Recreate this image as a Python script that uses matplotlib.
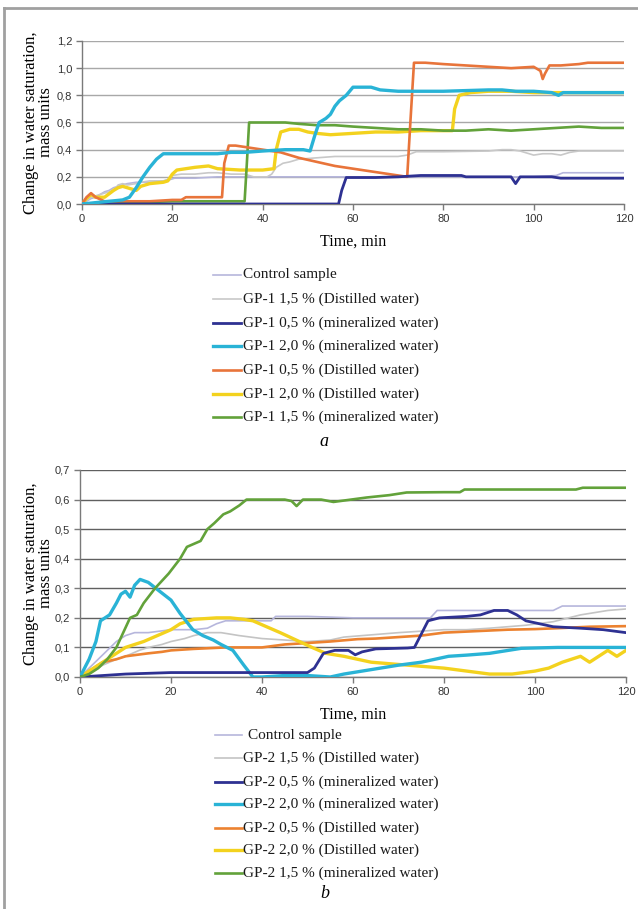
import matplotlib
matplotlib.use("Agg")
import matplotlib.pyplot as plt
from matplotlib.lines import Line2D
from matplotlib.ticker import FuncFormatter, MultipleLocator

# ---------------- data: chart a ----------------
labels_a = ["Control sample",
            "GP-1 1,5 % (Distilled water)",
            "GP-1 0,5 % (mineralized water)",
            "GP-1 2,0 % (mineralized water)",
            "GP-1 0,5 % (Distilled water)",
            "GP-1 2,0 % (Distilled water)",
            "GP-1 1,5 % (mineralized water)"]

ctrl_a_x = [0, 1, 2, 3, 4, 5, 6, 7, 8, 9, 10, 12, 15, 18, 19.5, 20.5, 25, 30, 35, 40, 45, 60, 80, 100, 105, 106.5, 120]
ctrl_a_y = [0, 0.02, 0.04, 0.05, 0.07, 0.09, 0.1, 0.12, 0.13, 0.14, 0.15, 0.16, 0.16, 0.17, 0.18, 0.19, 0.19, 0.2, 0.2, 0.2, 0.2, 0.2, 0.2, 0.2, 0.21, 0.23, 0.23]

gray_a_x = [0, 1, 2, 3, 5, 7, 8, 9, 10, 12, 13, 15, 18, 19, 20, 22, 25, 28, 30, 33, 36, 38, 40, 41, 42, 43, 44.5, 46, 48, 52, 56, 62, 70, 72, 74, 80, 90, 93, 95, 97, 99, 100, 102, 104, 106, 108, 110, 120]
gray_a_y = [0, 0.03, 0.05, 0.06, 0.08, 0.1, 0.14, 0.15, 0.14, 0.15, 0.16, 0.17, 0.17, 0.18, 0.21, 0.22, 0.22, 0.23, 0.23, 0.22, 0.22, 0.2, 0.2, 0.2, 0.22, 0.27, 0.3, 0.31, 0.33, 0.34, 0.35, 0.35, 0.35, 0.36, 0.385, 0.385, 0.39, 0.4, 0.4, 0.39, 0.37, 0.36, 0.37, 0.37, 0.36, 0.38, 0.39, 0.39]

navy_a_x = [0, 56.8, 57.5, 58.5, 65, 70, 75, 80, 84, 85, 95, 96, 97, 100, 104, 106, 120]
navy_a_y = [0, 0, 0.1, 0.195, 0.195, 0.2, 0.21, 0.21, 0.21, 0.2, 0.2, 0.15, 0.2, 0.2, 0.2, 0.19, 0.19]

cyan_a_x = [0, 3, 6, 9, 10.5, 12, 13.5, 15, 16.5, 18, 20, 25, 30, 33, 36, 40, 45, 49, 50.5, 51.5, 52.5, 54, 55, 56, 57, 58.5, 60, 62, 64, 66, 70, 80, 90, 93, 96, 100, 104, 105.5, 106.5, 110, 120]
cyan_a_y = [0, 0.01, 0.02, 0.03, 0.05, 0.12, 0.2, 0.27, 0.33, 0.37, 0.37, 0.37, 0.37, 0.38, 0.38, 0.39, 0.4, 0.4, 0.39, 0.5, 0.6, 0.63, 0.66, 0.72, 0.76, 0.8, 0.86, 0.86, 0.86, 0.84, 0.83, 0.83, 0.84, 0.84, 0.83, 0.83, 0.82, 0.8, 0.82, 0.82, 0.82]

orange_a_x = [0, 1, 2, 3, 5, 10, 15, 20, 22, 23, 28, 31, 31.5, 32.5, 34, 36, 40, 44, 48, 52, 56, 60, 64, 68, 72, 72.7, 73.5, 76, 80, 85, 90, 95, 100, 101.5, 102, 102.5, 103.5, 106, 110, 112, 120]
orange_a_y = [0, 0.05, 0.08, 0.05, 0.02, 0.02, 0.02, 0.03, 0.03, 0.05, 0.05, 0.05, 0.3, 0.43, 0.43, 0.42, 0.4, 0.38, 0.34, 0.31, 0.28, 0.26, 0.24, 0.22, 0.2, 0.6, 1.04, 1.04, 1.03, 1.02, 1.01, 1.0, 1.01, 0.98, 0.92, 0.96, 1.02, 1.02, 1.03, 1.04, 1.04]

yellow_a_x = [0, 1, 2, 3, 5, 7, 8, 9, 10, 11, 12, 13, 15, 18, 19, 20, 21, 25, 28, 30, 35, 40, 42.5, 43, 44, 46, 48, 50, 52, 55, 60, 65, 70, 75, 80, 82, 82.5, 83.5, 86, 90, 95, 100, 110, 120]
yellow_a_y = [0, 0.04, 0.07, 0.05, 0.05, 0.1, 0.12, 0.13, 0.12, 0.11, 0.1, 0.13, 0.15, 0.16, 0.17, 0.22, 0.25, 0.27, 0.28, 0.26, 0.25, 0.25, 0.26, 0.4, 0.53, 0.55, 0.55, 0.53, 0.52, 0.51, 0.52, 0.53, 0.53, 0.54, 0.54, 0.54, 0.7, 0.8, 0.82, 0.83, 0.83, 0.82, 0.82, 0.82]

green_a_x = [0, 5, 10, 20, 30, 35, 36, 36.5, 37, 40, 45, 48, 52, 56, 60, 65, 70, 75, 80, 85, 90, 95, 100, 105, 110, 115, 120]
green_a_y = [0, 0.01, 0.01, 0.02, 0.02, 0.02, 0.02, 0.3, 0.6, 0.6, 0.6, 0.59, 0.58, 0.58, 0.57, 0.56, 0.55, 0.55, 0.54, 0.54, 0.55, 0.54, 0.55, 0.56, 0.57, 0.56, 0.56]

# ---------------- data: chart b ----------------
labels_b = ["Control sample",
            "GP-2 1,5 % (Distilled water)",
            "GP-2 0,5 % (mineralized water)",
            "GP-2 2,0 % (mineralized water)",
            "GP-2 0,5 % (Distilled water)",
            "GP-2 2,0 % (Distilled water)",
            "GP-2 1,5 % (mineralized water)"]

ctrl_b_x = [0, 2, 4, 6, 8, 10, 12, 15, 20, 25, 28, 30, 32, 35, 40, 42, 43, 50, 60, 70, 77, 78.5, 90, 100, 104, 106, 120]
ctrl_b_y = [0, 0.03, 0.06, 0.09, 0.12, 0.14, 0.15, 0.15, 0.16, 0.16, 0.165, 0.18, 0.19, 0.19, 0.19, 0.19, 0.205, 0.205, 0.2, 0.2, 0.2, 0.225, 0.225, 0.225, 0.225, 0.24, 0.24]

gray_b_x = [0, 3, 5, 8, 10, 13, 15, 18, 20, 23, 25, 28, 31, 35, 40, 45, 50, 55, 58, 62, 66, 70, 75, 80, 85, 90, 98, 104, 110, 116, 120]
gray_b_y = [0, 0.02, 0.04, 0.06, 0.07, 0.09, 0.1, 0.11, 0.12, 0.13, 0.14, 0.15, 0.15, 0.14, 0.13, 0.125, 0.12, 0.125, 0.135, 0.14, 0.145, 0.15, 0.155, 0.16, 0.16, 0.165, 0.175, 0.187, 0.21, 0.225, 0.23]

navy_b_x = [0, 10, 20, 50, 51.5, 53.5, 56, 59, 60.5, 62, 65, 72, 73.5, 76.5, 79, 85, 88, 91, 94, 96, 98, 101, 104, 110, 115, 120]
navy_b_y = [0, 0.01, 0.015, 0.015, 0.03, 0.08, 0.09, 0.09, 0.075, 0.085, 0.095, 0.098, 0.1, 0.19, 0.2, 0.205, 0.21, 0.225, 0.225, 0.21, 0.19, 0.18, 0.17, 0.165, 0.16, 0.15]

cyan_b_x = [0, 2, 3.5, 4.5, 6.5, 8, 9, 10, 11, 12, 13.2, 15, 17.5, 20, 22, 24.8, 27, 29.3, 31, 33.6, 36, 38, 40, 45, 50, 55, 58, 62, 66, 70, 75, 81, 85, 90, 97, 105, 110, 120]
cyan_b_y = [0, 0.06, 0.12, 0.19, 0.21, 0.25, 0.28, 0.29, 0.27, 0.31, 0.33, 0.32, 0.29, 0.26, 0.215, 0.16, 0.14, 0.125, 0.11, 0.09, 0.04, 0.0, 0.0, 0.005, 0.005, 0.0, 0.01, 0.02, 0.03, 0.04, 0.05, 0.07, 0.074, 0.08, 0.097, 0.1, 0.1, 0.1]

orange_b_x = [0, 3, 5, 8, 10, 15, 18, 20, 25, 32, 40, 45, 55, 61, 65, 70, 75, 80, 87, 94, 100, 105, 112, 120]
orange_b_y = [0, 0.03, 0.05, 0.06, 0.07, 0.08, 0.085, 0.09, 0.095, 0.1, 0.1, 0.11, 0.12, 0.128, 0.13, 0.135, 0.14, 0.15, 0.155, 0.16, 0.162, 0.165, 0.17, 0.172]

yellow_b_x = [0, 3, 7, 10, 14, 17, 20, 22, 25, 30, 33, 36, 38, 41, 44, 47.5, 51, 54, 58, 64, 72, 80, 85, 90, 95, 100, 103, 106, 110, 112, 116, 118, 120]
yellow_b_y = [0, 0.03, 0.07, 0.1, 0.12, 0.14, 0.16, 0.18, 0.195, 0.2, 0.2, 0.195, 0.19, 0.17, 0.15, 0.125, 0.1, 0.08, 0.07, 0.05, 0.04, 0.03, 0.02, 0.01, 0.01, 0.02, 0.03, 0.05, 0.07, 0.05, 0.09, 0.07, 0.09]

green_b_x = [0, 2, 4, 6, 8, 9.5, 11, 12.5, 14, 16.5, 19.5, 22, 23.5, 25, 26.5, 28, 29.5, 31.5, 33, 35, 36.6, 40, 45, 46.5, 47.6, 49, 53, 55.7, 63, 68, 71.8, 80, 83.5, 84.5, 95, 109, 110.5, 120]
green_b_y = [0, 0.01, 0.03, 0.06, 0.1, 0.15, 0.2, 0.21, 0.25, 0.3, 0.35, 0.4, 0.44, 0.45, 0.46, 0.5, 0.52, 0.55, 0.56, 0.58, 0.6, 0.6, 0.6, 0.595, 0.578, 0.6, 0.6, 0.592, 0.607, 0.615, 0.624, 0.625, 0.625, 0.634, 0.634, 0.634, 0.64, 0.64]

# ---------------- styling ----------------
colors = ["#b6b6dc", "#c8c8c8", "#2e3192", "#29b3d6", "#e8743a", "#f3d21e", "#62a23a"]
colors_b = ["#b6b6dc", "#c4c4c4", "#2e3192", "#29b3d6", "#ec8230", "#f3d21e", "#62a23a"]
widths = [1.2, 1.2, 2.0, 2.4, 1.9, 2.4, 1.9]
SERIF = ["Liberation Serif", "DejaVu Serif"]
SANS = ["Liberation Sans", "DejaVu Sans"]

W, H = 638, 909
fig = plt.figure(figsize=(W / 100, H / 100), dpi=100)
fig.patch.set_facecolor("white")


def fx(px):
    return px / W


def fy(py):
    return 1 - py / H


def comma(v, pos):
    return f"{v:.1f}".replace(".", ",")


def style_axes(ax, ymax, ystep, gridcolor, xlabelpad, ylab_x):
    ax.set_xlim(0, 120)
    ax.set_ylim(0, ymax)
    ax.xaxis.set_major_locator(MultipleLocator(20))
    ax.yaxis.set_major_locator(MultipleLocator(ystep))
    ax.yaxis.set_major_formatter(FuncFormatter(comma))
    ax.grid(axis="y", color=gridcolor, lw=1.0)
    ax.set_axisbelow(True)
    for s in ["top", "right"]:
        ax.spines[s].set_visible(False)
    for s in ["left", "bottom"]:
        ax.spines[s].set_color("#7a7a7a")
        ax.spines[s].set_linewidth(1.0)
    ax.tick_params(axis="both", colors="#7a7a7a", labelcolor="#333333",
                   labelsize=8, length=4, width=1.0, pad=3)
    for lab in ax.get_xticklabels() + ax.get_yticklabels():
        lab.set_fontfamily(SANS)
    ax.set_ylabel("Change in water saturation,\nmass units", family=SERIF,
                  fontsize=12, linespacing=0.95)
    ax.yaxis.set_label_coords(ylab_x, 0.5)
    ax.set_xlabel("Time, min", family=SERIF, fontsize=11.5, labelpad=xlabelpad)


# ---------------- chart a ----------------
axa = fig.add_axes([fx(82), fy(204), fx(624) - fx(82), fy(41) - fy(204)])
series_a = [(ctrl_a_x, ctrl_a_y), (gray_a_x, gray_a_y), (navy_a_x, navy_a_y),
            (cyan_a_x, cyan_a_y), (orange_a_x, orange_a_y),
            (yellow_a_x, yellow_a_y), (green_a_x, green_a_y)]
order_a = [0, 1, 5, 6, 4, 2, 3]
for z, i in enumerate(order_a):
    xs, ys = series_a[i]
    axa.plot(xs, ys, color=colors[i], lw=widths[i], zorder=3 + z,
             solid_joinstyle="round")
style_axes(axa, 1.2, 0.2, "#a8a8a8", 7, (54 - 82) / 542)

# ---------------- chart b ----------------
axb = fig.add_axes([fx(80), fy(677), fx(626) - fx(80), fy(470) - fy(677)])
series_b = [(ctrl_b_x, ctrl_b_y), (gray_b_x, gray_b_y), (navy_b_x, navy_b_y),
            (cyan_b_x, cyan_b_y), (orange_b_x, orange_b_y),
            (yellow_b_x, yellow_b_y), (green_b_x, green_b_y)]
order_b = [0, 1, 4, 5, 3, 2, 6]
for z, i in enumerate(order_b):
    xs, ys = series_b[i]
    axb.plot(xs, ys, color=colors_b[i], lw=widths[i], zorder=3 + z,
             solid_joinstyle="round")
style_axes(axb, 0.7, 0.1, "#606060", 7, (54 - 80) / 546)

# ---------------- legends ----------------
def legend(labels, cols, rows_y, x0, x1, xt, xt0):
    for k, (lab, c) in enumerate(zip(labels, cols)):
        y = fy(rows_y[k])
        fig.add_artist(Line2D([fx(x0), fx(x1)], [y, y], color=c,
                              lw=widths[k], transform=fig.transFigure))
        fig.text(fx(xt0 if k == 0 else xt), y, lab, family=SERIF,
                 fontsize=11, va="center", ha="left", color="#1a1a1a")


legend(labels_a, colors, [275, 299, 323, 346, 370, 394, 417], 213, 241, 243, 243)
fig.text(fx(324), fy(441), "a", family=SERIF, style="italic", fontsize=13,
         ha="center", va="center")

legend(labels_b, colors_b, [735, 758, 782, 804, 828, 850, 873], 215, 242, 243, 248)
fig.text(fx(325), fy(894), "b", family=SERIF, style="italic", fontsize=13,
         ha="center", va="center")

# ---------------- frame ----------------
fig.add_artist(Line2D([fx(4), fx(4)], [0, fy(8)], color="#a0a0a0", lw=2,
                      transform=fig.transFigure))
fig.add_artist(Line2D([fx(4), 1], [fy(8), fy(8)], color="#a0a0a0", lw=2,
                      transform=fig.transFigure))

fig.savefig("out.png", dpi=100, facecolor="white")
